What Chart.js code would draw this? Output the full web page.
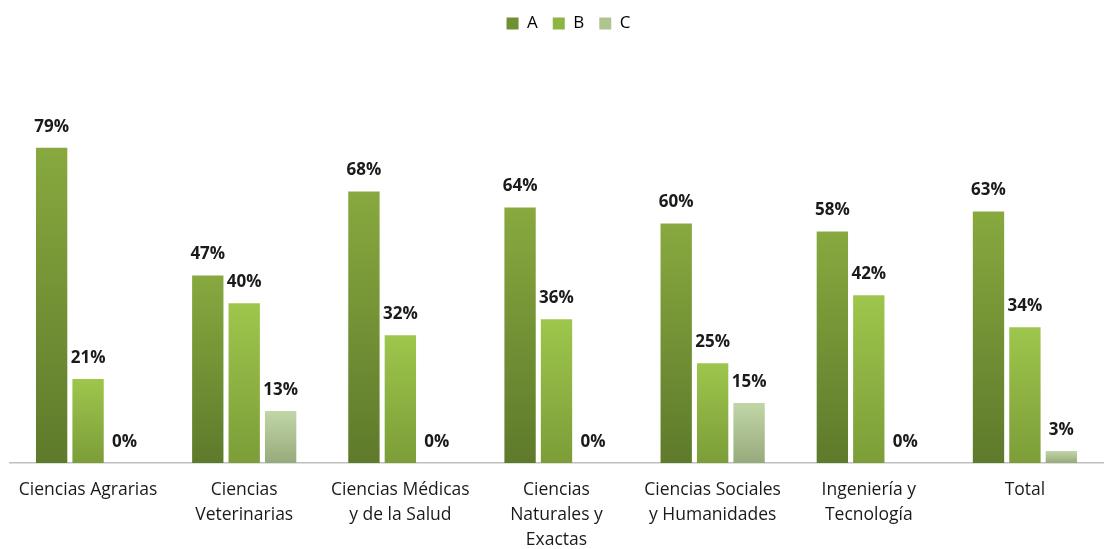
<!DOCTYPE html>
<html>
<head>
<meta charset="utf-8">
<script src="https://cdn.jsdelivr.net/npm/chart.js@4"></script>
<style>
  html, body { margin: 0; padding: 0; background: #fff; }
  #wrap { width: 1112px; height: 549px; }
</style>
</head>
<body>
<div id="wrap"><canvas id="chart"></canvas></div>
<script>
const categories = [
  'Ciencias Agrarias',
  ['Ciencias', 'Veterinarias'],
  ['Ciencias Médicas', 'y de la Salud'],
  ['Ciencias', 'Naturales y', 'Exactas'],
  ['Ciencias Sociales', 'y Humanidades'],
  ['Ingeniería y', 'Tecnología'],
  'Total'
]
const seriesA = [79, 47, 68, 64, 60, 58, 63]
const seriesB = [21, 40, 32, 36, 25, 42, 34]
const seriesC = [0, 13, 0, 0, 15, 0, 3]

const FONT = '"Open Sans", Lato, sans-serif'

// top / bottom colours of each series gradient, plus legend swatch
const shades = {
  A: ['#87a93f', '#5e7a2b', '#6f9033'],
  B: ['#9ec64c', '#7c9d38', '#8db541'],
  C: ['#c1d6a6', '#97aa7b', '#afc590']
}

function barGradient(key){
  return function(ctx){
    const chart = ctx.chart
    if (!chart.chartArea || ctx.type !== 'data') return shades[key][0]
    const y = chart.scales.y
    const top = y.getPixelForValue(ctx.raw)
    const bottom = y.getPixelForValue(0)
    if (bottom - top < 1) return shades[key][1]
    const g = chart.ctx.createLinearGradient(0, top, 0, bottom)
    g.addColorStop(0, shades[key][0])
    g.addColorStop(1, shades[key][1])
    return g
  }
}

// value labels above bars
const valueLabels = {
  id: 'valueLabels',
  afterDatasetsDraw(chart){
    const ctx = chart.ctx
    ctx.save()
    ctx.font = 'bold 17px ' + FONT
    ctx.fillStyle = '#1a1a1a'
    ctx.textAlign = 'center'
    ctx.textBaseline = 'middle'
    chart.data.datasets.forEach((ds, i) => {
      chart.getDatasetMeta(i).data.forEach((bar, j) => {
        ctx.fillText(ds.data[j] + '%', bar.x, bar.y - 21)
      })
    })
    ctx.restore()
  }
}

// legend sits a little right of centre in the original
const legendShift = {
  id: 'legendShift',
  afterUpdate(chart){
    if (chart.legend) {
      chart.legend.left += 12
      chart.legend.right += 12
    }
  }
}

new Chart(document.getElementById('chart'), {
  type: 'bar',
  data: {
    labels: categories,
    datasets: [
      { label: 'A', data: seriesA, backgroundColor: barGradient('A') },
      { label: 'B', data: seriesB, backgroundColor: barGradient('B') },
      { label: 'C', data: seriesC, backgroundColor: barGradient('C') }
    ]
  },
  options: {
    responsive: true,
    maintainAspectRatio: false,
    animation: false,
    categoryPercentage: 0.7,
    barPercentage: 0.86,
    layout: { padding: { left: 10, right: 9, top: 0, bottom: -18 } },
    plugins: {
      legend: {
        position: 'top',
        labels: {
          font: { family: FONT, size: 17 },
          color: '#1a1a1a',
          boxWidth: 12,
          boxHeight: 12,
          padding: 15,
          generateLabels(chart){
            return chart.data.datasets.map((ds, i) => ({
              text: ds.label,
              fillStyle: shades[ds.label][2],
              strokeStyle: shades[ds.label][2],
              lineWidth: 0,
              datasetIndex: i
            }))
          }
        }
      },
      tooltip: { enabled: false }
    },
    scales: {
      x: {
        grid: { display: false, drawTicks: false },
        border: { display: true, color: '#bfbfbf', width: 1.5 },
        ticks: {
          font: { family: FONT, size: 17.5, lineHeight: 1.45 },
          color: '#1a1a1a',
          padding: 14,
          maxRotation: 0,
          autoSkip: false
        }
      },
      y: {
        display: false,
        min: 0,
        max: 105.5
      }
    }
  },
  plugins: [valueLabels, legendShift]
})
</script>
</body>
</html>
